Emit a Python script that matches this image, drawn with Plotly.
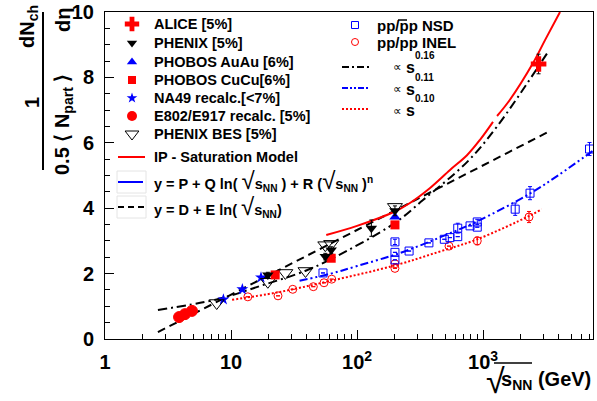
import math
import plotly.graph_objects as go

# ---------------- data ----------------
alice_x = [2760]
alice_y = [8.41]
alice_err = [0.3]

phenix_x = [19.6, 56, 62.4, 130, 200]
phenix_y = [1.96, 2.52, 2.72, 3.39, 3.92]
phenix_err = [0.08, 0.1, 0.1, 0.25, 0.15]

phobos_au_x = [200]
phobos_au_y = [3.73]

phobos_cu_x = [22.4, 62.4, 200]
phobos_cu_y = [1.96, 2.47, 3.49]

na49_x = [8.7, 12.3, 17.3]
na49_y = [1.21, 1.52, 1.88]

e802_x = [3.87, 4.31, 4.9]
e802_y = [0.67, 0.76, 0.86]

bes_x = [7.7, 19.6, 27, 39, 56, 62.4, 200]
bes_y = [1.10, 1.75, 2.02, 2.08, 2.87, 2.91, 4.04]

pp_nsd_x = [53.7, 200, 200, 200, 259, 372, 493, 546, 630, 630, 789, 900, 900, 1800, 2360, 7000]
pp_nsd_y = [2.02, 2.42, 2.65, 2.97, 2.69, 2.94, 3.05, 3.10, 3.13, 3.39, 3.46, 3.42, 3.58, 3.97, 4.46, 5.81]
pp_nsd_err = [0, 0, 0, 0.08, 0, 0, 0, 0, 0, 0.15, 0, 0, 0.08, 0.19, 0.2, 0.2]

pp_inel_x = [13.6, 23.6, 30.9, 45, 54.7, 63, 200, 200, 537, 900, 2317]
pp_inel_y = [1.29, 1.32, 1.52, 1.60, 1.72, 1.83, 2.30, 2.16, 2.84, 3.00, 3.73]
pp_inel_err = [0, 0, 0, 0, 0, 0, 0, 0, 0, 0.12, 0.17]

# curves
ipsat1_x = [57, 100, 200, 263, 380, 547, 746, 946, 1200]
ipsat1_y = [3.18, 3.46, 3.90, 4.16, 4.62, 5.17, 5.62, 6.09, 6.64]
ipsat2_x = [1292, 1630, 2494, 3105, 4083]
ipsat2_y = [6.82, 7.31, 8.44, 9.14, 10.0]

pow16_x = [2.63, 7.7, 17.3, 38.7, 62, 200, 334, 746, 1292, 3280]
pow16_y = [0.89, 1.21, 1.63, 2.08, 2.44, 3.55, 4.25, 5.41, 6.50, 8.78]

log_x = [2.63, 3280]
log_y = [0.21, 6.33]

pow11_x = [35, 62, 100, 219, 450, 900, 2360, 4000, 7400]
pow11_y = [1.78, 2.00, 2.23, 2.63, 3.10, 3.60, 4.45, 5.02, 5.75]

pow10_x = [10.2, 23, 62, 200, 450, 900, 2317, 2924]
pow10_y = [1.20, 1.42, 1.78, 2.25, 2.67, 3.05, 3.76, 3.97]

x_major = [1, 10, 100, 1000]
x_labels = ["1", "10", "10<sup>2</sup>", "10<sup>3</sup>"]
y_major = [0, 2, 4, 6, 8, 10]

# ---------------- geometry ----------------
W, H = 597, 401
L, R, T, B = 105, 4, 12, 62
PW, PH = W - L - R, H - T - B
XMAX = 7460


def pxp(x):
    return (x - L) / PW


def pyp(y):
    return (H - B - y) / PH


FONT = "Liberation Sans"
RED = "#ff0000"
BLUE = "#0000ff"

fig = go.Figure()


def curve(x, y, color, dash, shape="spline"):
    fig.add_trace(go.Scatter(x=x, y=y, mode="lines", line=dict(color=color, width=2, dash=dash, shape=shape),
                             showlegend=False, hoverinfo="skip"))


# curves
curve(log_x, log_y, "black", "8px,5px", "linear")
curve(pow16_x, pow16_y, "black", "9px,4px,2px,4px")
curve(pow11_x, pow11_y, BLUE, "8px,3px,2px,3px,2px,3px")
curve(pow10_x, pow10_y, RED, "2px,2px")
curve(ipsat1_x, ipsat1_y, RED, "solid")
curve(ipsat2_x, ipsat2_y, RED, "solid")


def pts(x, y, symbol, color, size, err=None, errcolor=None, lw=1):
    kw = {}
    if err is not None:
        kw["error_y"] = dict(type="data", array=err, visible=True, color=errcolor or color,
                             thickness=1, width=2)
    fig.add_trace(go.Scatter(x=x, y=y, mode="markers",
                             marker=dict(symbol=symbol, color=color, size=size,
                                         line=dict(color=color, width=lw)),
                             showlegend=False, hoverinfo="skip", **kw))


pts(pp_inel_x, pp_inel_y, "circle-open", RED, 8, pp_inel_err)
pts(pp_nsd_x, pp_nsd_y, "square-open", BLUE, 8, pp_nsd_err)
pts(e802_x, e802_y, "circle", RED, 11)
pts(na49_x, na49_y, "star", BLUE, 9, lw=0)
pts(bes_x, bes_y, "triangle-down-open", "black", 13)
pts(phobos_cu_x, phobos_cu_y, "square", RED, 9, lw=0)
pts(phobos_au_x, phobos_au_y, "triangle-up", BLUE, 10, lw=0)
pts(phenix_x, phenix_y, "triangle-down", "black", 10, phenix_err, "black", lw=0)
pts(alice_x, alice_y, "cross", RED, 13, alice_err, "black", lw=0)

# dummy invisible trace for the major-tick overlay axis
fig.add_trace(go.Scatter(x=alice_x, y=alice_y, xaxis="x3", mode="markers",
                         marker=dict(opacity=0), showlegend=False, hoverinfo="skip"))

# ---------------- manual legend (pixel axes x2/y2) ----------------
def lmark(x, y, symbol, color, size, lw=0):
    fig.add_trace(go.Scatter(x=[x], y=[y], xaxis="x2", yaxis="y2", mode="markers",
                             marker=dict(symbol=symbol, color=color, size=size,
                                         line=dict(color=color, width=lw)),
                             showlegend=False, hoverinfo="skip"))


def lline(x0, x1, y, color, dash):
    fig.add_trace(go.Scatter(x=[x0, x1], y=[y, y], xaxis="x2", yaxis="y2", mode="lines",
                             line=dict(color=color, width=2, dash=dash),
                             showlegend=False, hoverinfo="skip"))


annots = []


def txt(text, x, y, size=14.5, xanchor="left", angle=0, weight="bold", color="black"):
    annots.append(dict(text=text, x=pxp(x), y=pyp(y), xref="paper", yref="paper", showarrow=False,
                       xanchor=xanchor, yanchor="middle", textangle=angle,
                       font=dict(family=FONT, size=size, color=color, weight=weight)))


left_rows = [
    ("ALICE [5%]", "cross", RED, 12, 0),
    ("PHENIX [5%]", "triangle-down", "black", 9, 0),
    ("PHOBOS AuAu [6%]", "triangle-up", BLUE, 9, 0),
    ("PHOBOS CuCu[6%]", "square", RED, 8, 0),
    ("NA49 recalc.[<7%]", "star", BLUE, 8, 0),
    ("E802/E917 recalc. [5%]", "circle", RED, 10, 0),
    ("PHENIX BES [5%]", "triangle-down-open", "black", 12, 1),
]
row_y = [24, 43, 62, 80, 98, 116, 134]
for (label, sym, col, sz, lw), yy in zip(left_rows, row_y):
    lmark(132, yy, sym, col, sz, lw)
    txt(label, 152, yy)

lline(118, 145, 157, RED, "solid")
txt("IP - Saturation Model", 152, 157)
lline(118, 143, 182, BLUE, "solid")
SQ = "<span style='font-weight:normal;font-size:24px'>√</span>"
txt("y = P + Q ln( " + SQ + "s<sub>NN</sub> ) + R (" + SQ + "s<sub>NN</sub> )<sup>n</sup>", 152, 181)
lline(118, 145, 207, "black", "6px,4px")
txt("y = D + E ln( " + SQ + "s<sub>NN</sub>)", 152, 206)

# right legend
lmark(355, 25, "square-open", BLUE, 7, 1)
txt("pp/pp NSD", 375, 25, 15)
lmark(355, 42, "circle-open", RED, 7, 1)
txt("pp/pp INEL", 375, 42, 15)
lline(342, 370, 67, "black", "7px,3px,2px,3px")
lline(342, 370, 88, BLUE, "6px,2px,2px,2px,2px,2px")
lline(342, 370, 109, RED, "2px,2px")
for yy, ex in [(67, "0.16"), (89, "0.11"), (111, "0.10")]:
    txt("∝", 391, yy, 12, weight="normal")
    txt("s", 404, yy, 16)
    txt(ex, 413, yy - 12, 10)

# axis titles
txt("√", 484, 381, 34, weight="normal")
txt("s<sub>NN</sub> (GeV)", 499, 380, 20)

txt("1", 32, 103, 20, "center", -90)
txt("dN<sub>ch</sub>", 29, 27, 20, "center", -90)
txt("0.5 ⟨ N<sub>part</sub> ⟩", 63, 125, 20, "center", -90)
txt("dη", 63, 20, 20, "center", -90)

shapes = [
    dict(type="line", xref="paper", yref="paper", x0=pxp(43), x1=pxp(43), y0=pyp(12), y1=pyp(170),
         line=dict(color="black", width=2)),
    dict(type="line", xref="paper", yref="paper", x0=pxp(494), x1=pxp(532), y0=pyp(363), y1=pyp(363),
         line=dict(color="black", width=1.5)),
    dict(type="rect", xref="x2", yref="y2", x0=117, x1=146, y0=171, y1=193,
         line=dict(color="#e4e4e4", width=1)),
    dict(type="rect", xref="x2", yref="y2", x0=117, x1=146, y0=196, y1=218,
         line=dict(color="#e4e4e4", width=1)),
    # overline on antiproton in legend
    dict(type="line", xref="x2", yref="y2", x0=398, x1=407, y0=20, y1=20,
         line=dict(color="black", width=1.5)),
]

# minor x ticks
x_minor = [m * 10 ** d for d in range(4) for m in range(1, 10) if m * 10 ** d <= XMAX]
x_minor_text = [x_labels[x_major.index(v)] if v in x_major else "" for v in x_minor]

tickfont = dict(family=FONT, size=20, color="black", weight="bold")
fig.update_layout(
    width=W, height=H,
    margin=dict(l=L, r=R, t=T, b=B, pad=0, autoexpand=False),
    paper_bgcolor="white", plot_bgcolor="white",
    showlegend=False,
    xaxis=dict(type="log", range=[0, math.log10(XMAX)], tickmode="array",
               tickvals=x_minor, ticktext=x_minor_text, ticks="inside", ticklen=5,
               tickcolor="black", showline=True, linecolor="black", linewidth=1, mirror=True,
               showgrid=False, zeroline=False, tickfont=tickfont, ticklabelstandoff=5,
               automargin=False),
    xaxis3=dict(type="log", range=[0, math.log10(XMAX)], overlaying="x", anchor="y",
                tickmode="array", tickvals=x_major, ticks="inside", ticklen=9, tickcolor="black",
                showticklabels=False, showgrid=False, zeroline=False, showline=False),
    yaxis=dict(range=[0, 10], tickmode="array", tickvals=y_major, ticks="inside", ticklen=9,
               tickcolor="black", showline=True, linecolor="black", linewidth=1, mirror=True,
               showgrid=False, zeroline=False, tickfont=tickfont, ticklabelstandoff=6,
               automargin=False,
               minor=dict(dtick=0.5, ticks="inside", ticklen=5, tickcolor="black", showgrid=False)),
    xaxis2=dict(range=[L, W - R], overlaying="x", anchor="y2", visible=False),
    yaxis2=dict(range=[H - B, T], overlaying="y", anchor="x2", visible=False),
    annotations=annots,
    shapes=shapes,
)

fig.write_html("out.html", config={"displayModeBar": False},
               post_script="document.body.style.margin='0';document.body.style.overflow='hidden';")
